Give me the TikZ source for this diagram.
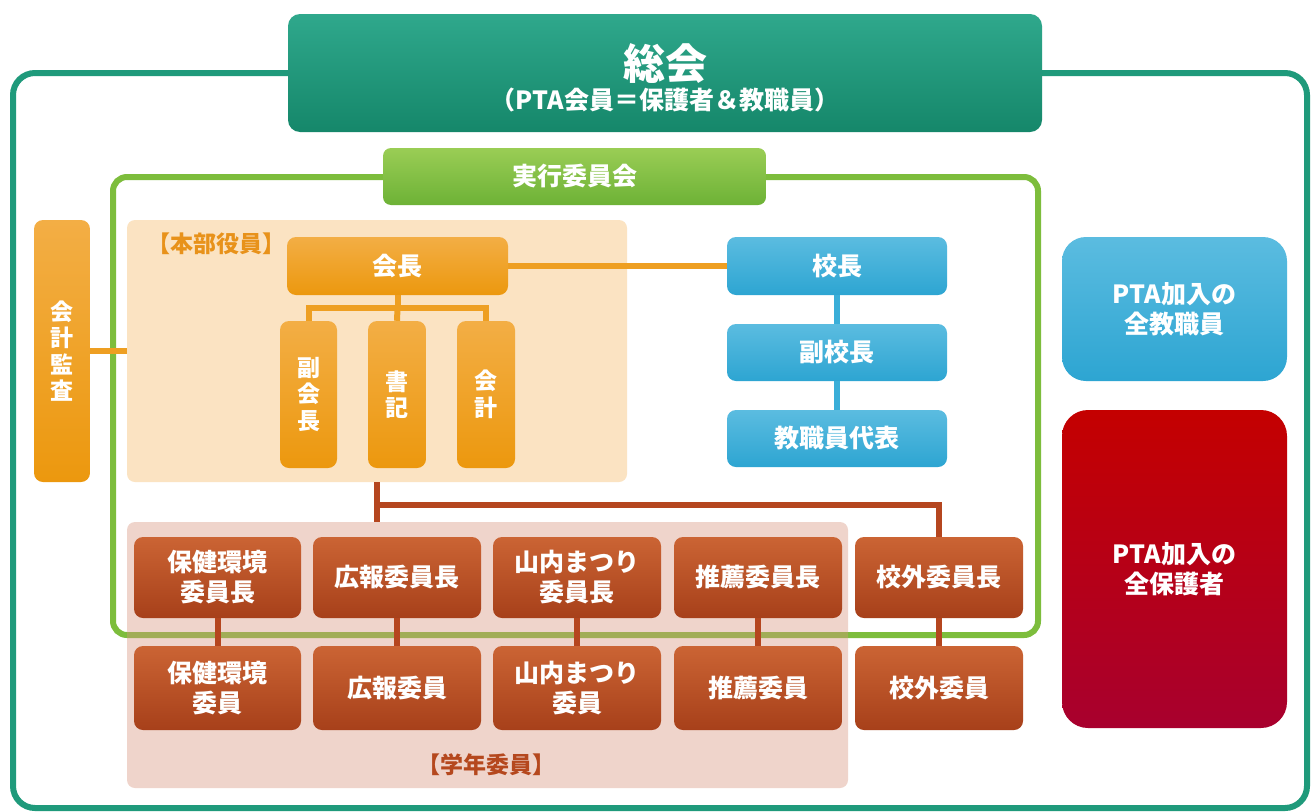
\documentclass[tikz,border=0pt]{standalone}
\usepackage{fontspec}
\setmainfont{Noto Sans CJK JP}
\definecolor{tealL}{HTML}{1F9A7B}
\definecolor{tealTop}{HTML}{2FA88C}
\definecolor{tealBot}{HTML}{15876A}
\definecolor{grnL}{HTML}{7DBD3C}
\definecolor{grnTop}{HTML}{9ACD55}
\definecolor{grnBot}{HTML}{6DB236}
\definecolor{orL}{HTML}{EE9F22}
\definecolor{orTop}{HTML}{F3AE45}
\definecolor{orBot}{HTML}{EC980E}
\definecolor{orTxt}{HTML}{E8921A}
\definecolor{hbBg}{HTML}{FBE3C2}
\definecolor{blL}{HTML}{3AAED8}
\definecolor{blTop}{HTML}{5BBCE0}
\definecolor{blBot}{HTML}{2DA5D2}
\definecolor{brL}{HTML}{B5461F}
\definecolor{brTop}{HTML}{CB6434}
\definecolor{brBot}{HTML}{A7401A}
\definecolor{brTxt}{HTML}{B5481E}
\definecolor{gkBg}{HTML}{D9957F}
\definecolor{rdTop}{HTML}{C40000}
\definecolor{rdBot}{HTML}{A8002E}
\tikzset{
  box/.style={rounded corners=9pt, inner sep=0pt, text=white, align=center,
    font=\fontsize{25}{30}\selectfont\bfseries},
  obox/.style={box, top color=orTop, bottom color=orBot},
  vbox/.style={obox, font=\fontsize{23}{26.5}\selectfont\bfseries},
  bbox/.style={box, top color=blTop, bottom color=blBot},
  rbox/.style={box, top color=brTop, bottom color=brBot},
  lbl/.style={inner sep=0pt, font=\fontsize{23}{27}\selectfont\bfseries},
  ocon/.style={draw=orL, line width=6pt},
  bcon/.style={draw=blL, line width=6pt},
  rcon/.style={draw=brL, line width=6pt},
}
\begin{document}
\begin{tikzpicture}[x=1pt,y=-1pt]
\useasboundingbox[fill=white] (0,0) rectangle (1313,811);
% frames
\draw[tealL, line width=6pt, rounded corners=22pt] (13,73) rectangle (1307,808);
\draw[grnL, line width=6pt, rounded corners=14pt] (113,177) rectangle (1038,635);
% backgrounds
\node[fill=hbBg, rounded corners=8pt, minimum width=500, minimum height=262, inner sep=0pt] (honbu) at (377,351) {};
\node[lbl, text=orTxt] (honbulbl) at (216,244) {【本部役員】};
\node[fill=gkBg, fill opacity=0.4, rounded corners=8pt, minimum width=721, minimum height=266, inner sep=0pt] (gakunen) at (487.5,655) {};
\node[lbl, text=brTxt] (gakulbl) at (486,765) {【学年委員】};
% top boxes
\node[box, rounded corners=12pt, top color=tealTop, bottom color=tealBot, minimum width=754, minimum height=118] (soukai) at (665,73) {};
\node[inner sep=0pt, text=white, align=center, font=\bfseries] (soukaitxt) at (665,78)
  {\fontsize{42}{50}\selectfont 総会\\[4pt]\fontsize{25}{30}\selectfont （PTA会員＝保護者＆教職員）};
\node[box, rounded corners=8pt, top color=grnTop, bottom color=grnBot, minimum width=383, minimum height=57] (jikkou) at (574.5,176.5) {実行委員会};
% honbu
\node[vbox, minimum width=56, minimum height=262] (kansa) at (62,351) {会\\計\\監\\査};
\node[obox, minimum width=221, minimum height=58] (kaichou) at (397.5,266) {会長};
\node[vbox, minimum width=57, minimum height=147] (fuku) at (308.5,394.5) {副\\会\\長};
\node[vbox, minimum width=58, minimum height=147] (shoki) at (397,394.5) {書\\記};
\node[vbox, minimum width=58, minimum height=147] (kaikei) at (486,394.5) {会\\計};
% school
\node[bbox, minimum width=220, minimum height=58] (kouchou) at (837,266) {校長};
\node[bbox, minimum width=220, minimum height=57] (fukukou) at (837,352.5) {副校長};
\node[bbox, minimum width=220, minimum height=57] (kyoudai) at (837,438.5) {教職員代表};
\node[bbox, rounded corners=24pt, minimum width=225, minimum height=144] (zenkyou) at (1174.5,309) {PTA加入の\\全教職員};
\node[box, rounded corners=26pt, top color=rdTop, bottom color=rdBot, minimum width=225, minimum height=318] (zenhogo) at (1174.5,569) {PTA加入の\\全保護者};
% committees
\node[rbox, minimum width=167, minimum height=81] (c1) at (217.5,577.5) {保健環境\\委員長};
\node[rbox, minimum width=168, minimum height=81] (c2) at (397,577.5) {広報委員長};
\node[rbox, minimum width=168, minimum height=81] (c3) at (577,577.5) {山内まつり\\委員長};
\node[rbox, minimum width=168, minimum height=81] (c4) at (758,577.5) {推薦委員長};
\node[rbox, minimum width=168, minimum height=81] (c5) at (939,577.5) {校外委員長};
\node[rbox, minimum width=167, minimum height=84] (m1) at (217.5,688) {保健環境\\委員};
\node[rbox, minimum width=168, minimum height=84] (m2) at (397,688) {広報委員};
\node[rbox, minimum width=168, minimum height=84] (m3) at (577,688) {山内まつり\\委員};
\node[rbox, minimum width=168, minimum height=84] (m4) at (758,688) {推薦委員};
\node[rbox, minimum width=168, minimum height=84] (m5) at (939,688) {校外委員};
% connectors
\draw[ocon] (kansa.east) -- (honbu.west);
\draw[ocon] (kaichou.east) -- (kouchou.west);
\draw[ocon] (kaichou.south) -- ++(0,13) coordinate (kj);
\draw[ocon] (fuku.north) |- (kj) -| (kaikei.north);
\draw[ocon] (kj) -- (shoki.north);
\draw[bcon] (kouchou.south) -- (fukukou.north);
\draw[bcon] (fukukou.south) -- (kyoudai.north);
\draw[rcon] (honbu.south) -- (honbu.south |- gakunen.north);
\path (honbu.south) ++(0,23) coordinate (bj);
\draw[rcon] (bj) -| (c5.north);
\foreach \i in {1,...,5} { \draw[rcon] (c\i.south) -- (m\i.north); }
\end{tikzpicture}
\end{document}
